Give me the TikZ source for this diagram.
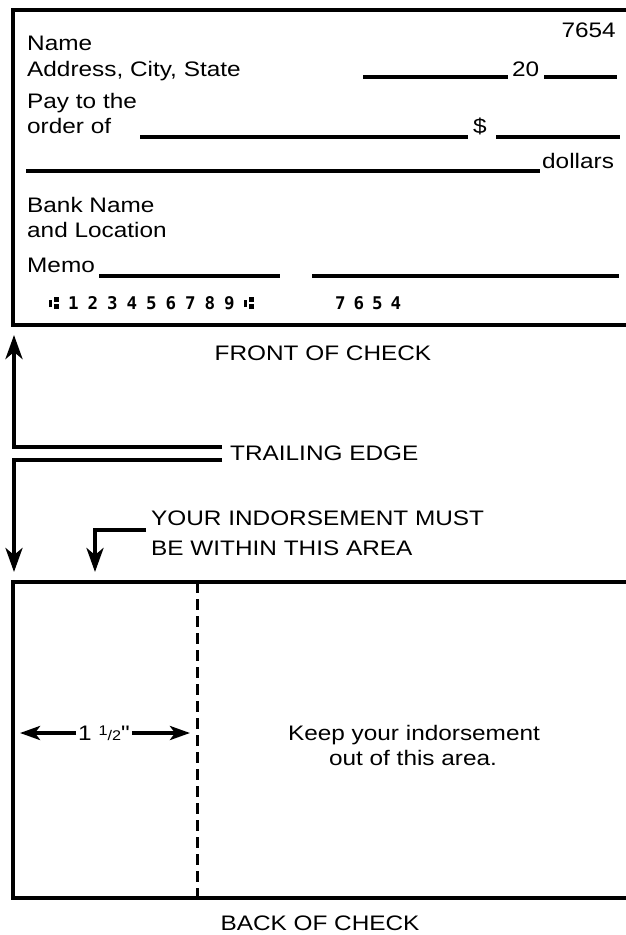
\documentclass[tikz,border=0pt]{standalone}
\usepackage{fontspec}
\setmainfont{Liberation Sans}[FakeStretch=1.16]
\newfontfamily\nomapfont{Liberation Sans}[FakeStretch=1.16,Ligatures=TeXOff]
\newfontfamily\micrfont{DejaVu Sans Mono Bold}
\usetikzlibrary{arrows.meta}
\newcommand\mc[1]{\makebox[19.5pt]{#1}}
\newcommand\mcs[1]{\makebox[18.5pt]{#1}}
% E-13B transit symbol, drawn with rules
\newcommand\transit{\makebox[19.5pt]{\rule[2pt]{2.8pt}{7.5pt}\hspace{2.4pt}\rlap{\rule[7pt]{5pt}{5pt}}\rule[0pt]{5pt}{5pt}}}
\begin{document}
\begin{tikzpicture}[x=1pt,y=-1pt,
  txt/.style={inner sep=0pt, font=\fontsize{21}{25}\selectfont},
  micr/.style={inner sep=0pt, font=\micrfont\fontsize{17.5}{20}\selectfont},
  boxline/.style={line width=4pt},
  formline/.style={line width=3.5pt},
  arr/.style={line width=4pt, -{Stealth[length=24pt,width=17pt,inset=7pt]}},
  dimarr/.style={line width=4pt, -{Stealth[length=20pt,width=14pt,inset=5pt]}},
  dashline/.style={line width=3pt, dash pattern=on 11pt off 6pt}
]
\useasboundingbox[fill=white] (0,0) rectangle (626,935);

% ---------- front of check ----------
\coordinate (ftr) at (632,10);
\coordinate (ftl) at (13,10);
\coordinate (fbl) at (13,325);
\coordinate (fbr) at (632,325);
\draw[boxline] (ftr) -- (ftl) -- (fbl) -- (fbr);

\node[txt,anchor=base east] (chk) at (616,37) {7654};
\node[txt,anchor=base west] (name) at (27,50) {Name};
\node[txt,anchor=base west] (addr) at (27,76) {Address, City, State};
\draw[formline] (363,77) -- (508,77);
\node[txt,anchor=base west] (yr) at (512,76) {20};
\draw[formline] (544,77) -- (617,77);

\node[txt,anchor=base west] (pay) at (27,108) {Pay to the};
\node[txt,anchor=base west] (ord) at (27,133) {order of};
\draw[formline] (140,137) -- (468,137);
\node[txt,anchor=base west] (dol) at (473,133) {\$};
\draw[formline] (496,137) -- (620,137);

\draw[formline] (26,171) -- (540,171);
\node[txt,anchor=base west] (dollars) at (542,168) {dollars};

\node[txt,anchor=base west] (bank) at (27,212) {Bank Name};
\node[txt,anchor=base west] (loc) at (27,237) {and Location};

\node[txt,anchor=base west] (memo) at (27,272) {Memo};
\draw[formline] (99,276) -- (280,276);
\draw[formline] (312,276) -- (619,276);

\node[micr,anchor=base west] (routing) at (44,309) {\transit\mc{1}\mc{2}\mc{3}\mc{4}\mc{5}\mc{6}\mc{7}\mc{8}\mc{9}\transit};
\node[micr,anchor=base west] (micrnum) at (331,309) {\mcs{7}\mcs{6}\mcs{5}\mcs{4}};

\node[txt,anchor=base] (front) at (323,360) {FRONT OF CHECK};

% ---------- trailing edge ----------
\node[txt,anchor=west] (te) at (230,453) {TRAILING EDGE};
\coordinate (te1) at (222,447);
\coordinate (te2) at (222,460);
\coordinate (upend) at (14,335);
\coordinate (downend) at (14,572);
\draw[arr] (te1) -| (upend);
\draw[arr] (te2) -| (downend);

% ---------- indorsement note ----------
\node[txt,anchor=base west] (ind1) at (151,525) {YOUR INDORSEMENT MUST};
\node[txt,anchor=base west] (ind2) at (151,555) {BE WITHIN THIS AREA};
\coordinate (indstart) at (146,530);
\coordinate (indend) at (95,572);
\draw[arr] (indstart) -| (indend);

% ---------- back of check ----------
\coordinate (btr) at (632,582);
\coordinate (btl) at (13,582);
\coordinate (bbl) at (13,898);
\coordinate (bbr) at (632,898);
\draw[boxline] (btr) -- (btl) -- (bbl) -- (bbr);
\coordinate (dtop) at (197,582);
\coordinate (dbot) at (197,898);
\draw[dashline] (dtop) -- (dbot);

\node[txt,anchor=center,inner sep=2pt] (dim) at (104,733) {1 {\fontsize{14}{14}\selectfont\raisebox{5pt}{1}/2}{\nomapfont"}};
\coordinate (dl) at (20,733);
\coordinate (dr) at (190,733);
\draw[dimarr] (dim.west) -- (dl);
\draw[dimarr] (dim.east) -- (dr);

\node[txt,anchor=base] (keep1) at (414,740) {Keep your indorsement};
\node[txt,anchor=base] (keep2) at (413,765) {out of this area.};

\node[txt,anchor=base] (back) at (320,930) {BACK OF CHECK};
\end{tikzpicture}
\end{document}
